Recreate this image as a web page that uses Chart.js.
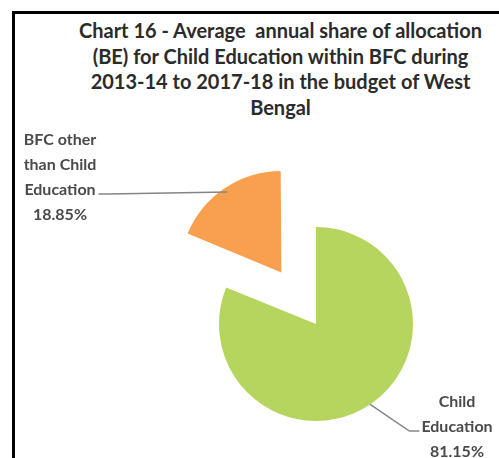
<!DOCTYPE html>
<html>
<head>
<meta charset="utf-8">
<title>Chart 16</title>
<script src="https://cdn.jsdelivr.net/npm/chart.js@4.4.1/dist/chart.umd.min.js"></script>
<style>
    html, body {
        margin: 0;
        padding: 0;
        width: 499px;
        height: 458px;
        overflow: hidden;
        background: #fff;
    }
    .marco {
        position: absolute;
        left: 12px;
        top: 11px;
        width: 600px;
        height: 600px;
        border: 3px solid #000;
    }
    .titulo {
        position: absolute;
        left: 62px;
        top: 18px;
        width: 437px;
        text-align: center;
        white-space: pre;
        font-family: Lato, "Open Sans", sans-serif;
        font-weight: bold;
        font-size: 20px;
        line-height: 25.5px;
        color: #2b2b2b;
    }
    #canvas_grafica {
        position: absolute;
        left: 0;
        top: 0;
    }
</style>
</head>
<body>
<div class="marco"></div>
<div class="titulo">Chart 16 - Average  annual share of allocation
(BE) for Child Education within BFC during
2013-14 to 2017-18 in the budget of West
Bengal</div>
<canvas id="canvas_grafica" width="499" height="458"></canvas>

<script>
// Average annual share (%) of BE allocation within BFC, 2013-14 to 2017-18
const categorias = ['Child Education', 'BFC other than Child Education'];
const participacion = [81.15, 18.85];

// Labels outside the pie, joined to the slice with a leader line
const etiquetas_externas = {
    id: 'etiquetas_externas',
    afterDatasetsDraw(chart, args, opts) {
        const ctx = chart.ctx;
        const arcos = chart.getDatasetMeta(0).data;
        ctx.save();
        ctx.font = `bold ${opts.tamano}px Lato, "Open Sans", sans-serif`;
        ctx.textAlign = 'center';
        ctx.textBaseline = 'alphabetic';

        arcos.forEach((arco, i) => {
            const p = arco.getProps(['x', 'y', 'startAngle', 'endAngle', 'outerRadius'], true);
            const medio = (p.startAngle + p.endAngle) / 2;
            const desplazamiento = (arco.options.offset || 0) / 4;
            const cx = p.x + Math.cos(medio) * desplazamiento;
            const cy = p.y + Math.sin(medio) * desplazamiento;
            const ax = cx + Math.cos(medio) * p.outerRadius;
            const ay = cy + Math.sin(medio) * p.outerRadius;

            // wrap the category name to the label width
            const lineas = [];
            let actual = '';
            chart.data.labels[i].split(' ').forEach(palabra => {
                const prueba = actual ? actual + ' ' + palabra : palabra;
                if (actual && ctx.measureText(prueba).width > opts.ancho) {
                    lineas.push(actual);
                    actual = palabra;
                } else {
                    actual = prueba;
                }
            });
            lineas.push(actual);
            const ultima = lineas.length - 1;
            lineas.push(chart.data.datasets[0].data[i].toFixed(2) + '%');

            const pos = opts.posiciones[i];
            ctx.fillStyle = opts.color;
            lineas.forEach((linea, j) => {
                ctx.fillText(linea, pos.x, pos.y + j * opts.interlineado);
            });

            // leader line ends beside the last line of the category name
            const ancho_ultima = ctx.measureText(lineas[ultima]).width;
            const ly = pos.y + ultima * opts.interlineado - 1;
            const a_la_izquierda = pos.x < ax;
            const lx = a_la_izquierda ? pos.x + ancho_ultima / 2 + 3 : pos.x - ancho_ultima / 2 - 2;
            const codo = a_la_izquierda ? lx + 10 : lx - 10;

            ctx.beginPath();
            ctx.moveTo(ax, ay);
            ctx.lineTo(codo, ly);
            ctx.lineTo(lx, ly);
            ctx.strokeStyle = opts.colorLinea;
            ctx.lineWidth = 1.5;
            ctx.stroke();
        });
        ctx.restore();
    }
};

const ctx = document.getElementById('canvas_grafica').getContext('2d');

const grafica = new Chart(ctx, {
    type: 'pie',
    data: {
        labels: categorias,
        datasets: [{
            data: participacion,
            backgroundColor: ['#b5d55e', '#f8a04f'],
            borderWidth: 0,
            offset: [0, 248],
            clip: false
        }]
    },
    options: {
        responsive: false,
        animation: false,
        radius: 97,
        layout: {
            padding: { left: 133, right: 0, top: 190, bottom: 0 }
        },
        plugins: {
            legend: { display: false },
            tooltip: { enabled: false },
            etiquetas_externas: {
                tamano: 16,
                ancho: 85,
                interlineado: 25,
                color: '#4a4a4a',
                colorLinea: '#858585',
                posiciones: [
                    { x: 457, y: 407 },
                    { x: 60, y: 145 }
                ]
            }
        }
    },
    plugins: [etiquetas_externas]
});
</script>
</body>
</html>
